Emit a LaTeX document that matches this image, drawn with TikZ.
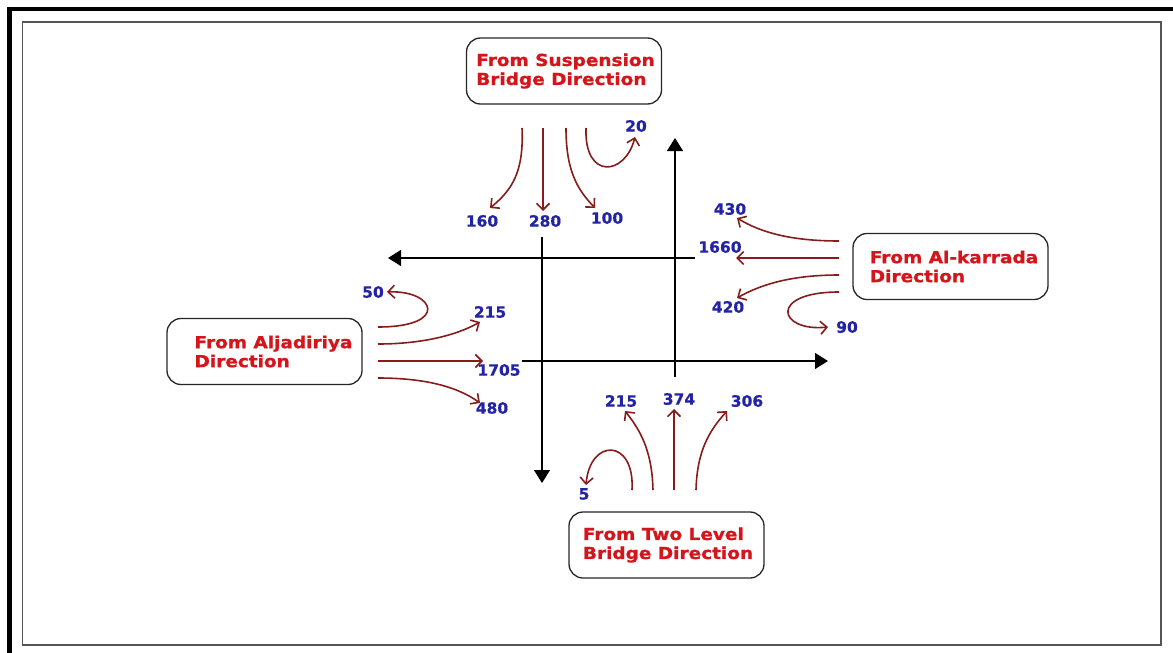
\documentclass[tikz,border=0pt]{standalone}
\usepackage{fontspec}
\setmainfont{DejaVu Sans}
\newfontfamily\boxfont{DejaVu Sans}[FakeStretch=1.12,FakeBold=1.2]
\newfontfamily\numfont{DejaVu Sans}[FakeBold=0.6]
\usetikzlibrary{arrows.meta}
\definecolor{boxred}{HTML}{D4161C}
\definecolor{numblue}{HTML}{2323A6}
\definecolor{flowred}{HTML}{861C1C}
\definecolor{framegray}{HTML}{555555}
\newcommand\lind[1]{\hspace*{#1}}
\begin{document}
\begin{tikzpicture}[x=1pt,y=-1pt,
  dirbox/.style={draw=black!85, line width=1.3pt, rounded corners=14pt,
    minimum width=195pt, minimum height=66pt, align=left, text=boxred,
    font=\boxfont\bfseries\fontsize{16.5}{19}\selectfont, inner sep=0pt},
  num/.style={text=numblue, font=\numfont\bfseries\fontsize{15.5}{16}\selectfont, inner sep=0pt},
  flow/.style={draw=flowred, line width=1.6pt,
    -{Straight Barb[length=6.5pt,width=13pt,line width=1.6pt]}},
  axis/.style={draw=black, line width=1.2pt, -{Triangle[length=13pt,width=16pt]}}]
\useasboundingbox (0,0) rectangle (1173,653);
\clip (0,0) rectangle (1173,653);
% frames
\draw[line width=4.5pt] (9.5,700) -- (9.5,9) -- (1200,9);
\draw[framegray, line width=1.5pt] (22.5,22) rectangle (1161,645);

% direction boxes
\node[dirbox] (susp) at (564,71) {\lind{3pt}From Suspension\\\lind{3pt}Bridge Direction};
\node[dirbox] (karr) at (950.5,266.5) {\lind{7pt}From Al-karrada\\\lind{7pt}Direction};
\node[dirbox] (jad) at (264.5,351.5) {\lind{18pt}From Aljadiriya\\\lind{18pt}Direction};
\node[dirbox] (two) at (666.5,545) {\lind{3pt}From Two Level\\\lind{3pt}Bridge Direction};

% black axes
\coordinate (dA) at (542,237); \coordinate (dB) at (542,483);
\coordinate (uA) at (675,377); \coordinate (uB) at (675,138);
\coordinate (lA) at (695,258); \coordinate (lB) at (388,258);
\coordinate (rA) at (522,361); \coordinate (rB) at (828,361);
\draw[axis] (dA) -- (dB);
\draw[axis] (uA) -- (uB);
\draw[axis] (lA) -- (lB);
\draw[axis] (rA) -- (rB);

% labels
\node[num] (n160) at (482,221) {160};
\node[num] (n280) at (545,221) {280};
\node[num] (n100) at (607,218) {100};
\node[num] (n20)  at (636,126) {20};
\node[num] (n430) at (730,209) {430};
\node[num] (n1660) at (720,247) {1660};
\node[num] (n420) at (728,307) {420};
\node[num] (n90)  at (847,327) {90};
\node[num] (n50)  at (373,292) {50};
\node[num] (n215a) at (490,312) {215};
\node[num] (n1705) at (499,370) {1705};
\node[num] (n480) at (492,408) {480};
\node[num] (n5)   at (584,494) {5};
\node[num] (n215b) at (621,401) {215};
\node[num] (n374) at (679,399) {374};
\node[num] (n306) at (747,401) {306};

% top group (from suspension bridge)
\coordinate (t1) at (522,128); \coordinate (t1e) at (490,208);
\coordinate (t2) at (543,128); \coordinate (t2e) at (543,211);
\coordinate (t3) at (566,128); \coordinate (t3e) at (595,208);
\coordinate (t4) at (586,128); \coordinate (t4e) at (635,137);
\draw[flow] (t1) .. controls (524,172) and (512,190) .. (t1e);
\draw[flow] (t2) -- (t2e);
\draw[flow] (t3) .. controls (566,172) and (578,190) .. (t3e);
\draw[flow] (t4) .. controls (584,180) and (625,176) .. (t4e);

% right group (from al-karrada)
\coordinate (r1) at (839,241); \coordinate (r1e) at (737,218);
\coordinate (r2) at (839,258); \coordinate (r2e) at (736,258);
\coordinate (r3) at (839,275); \coordinate (r3e) at (737,298);
\coordinate (r4) at (839,292); \coordinate (r4e) at (828,327);
\draw[flow] (r1) .. controls (790,241) and (760,232) .. (r1e);
\draw[flow] (r2) -- (r2e);
\draw[flow] (r3) .. controls (790,275) and (760,285) .. (r3e);
\draw[flow] (r4) .. controls (768,292) and (778,332) .. (r4e);

% left group (from aljadiriya)
\coordinate (j1) at (378,327); \coordinate (j1e) at (387,292);
\coordinate (j2) at (378,344); \coordinate (j2e) at (480,322);
\coordinate (j3) at (378,361); \coordinate (j3e) at (483,361);
\coordinate (j4) at (378,378); \coordinate (j4e) at (480,403);
\draw[flow] (j1) .. controls (450,327) and (435,290) .. (j1e);
\draw[flow] (j2) .. controls (420,344) and (455,336) .. (j2e);
\draw[flow] (j3) -- (j3e);
\draw[flow] (j4) .. controls (420,378) and (455,385) .. (j4e);

% bottom group (from two level bridge)
\coordinate (b1) at (632,490); \coordinate (b1e) at (586,485);
\coordinate (b2) at (653,490); \coordinate (b2e) at (625,411);
\coordinate (b3) at (674,490); \coordinate (b3e) at (674,409);
\coordinate (b4) at (696,490); \coordinate (b4e) at (727,411);
\draw[flow] (b1) .. controls (635,438) and (590,438) .. (b1e);
\draw[flow] (b2) .. controls (652,450) and (640,430) .. (b2e);
\draw[flow] (b3) -- (b3e);
\draw[flow] (b4) .. controls (697,450) and (710,430) .. (b4e);
\end{tikzpicture}
\end{document}
